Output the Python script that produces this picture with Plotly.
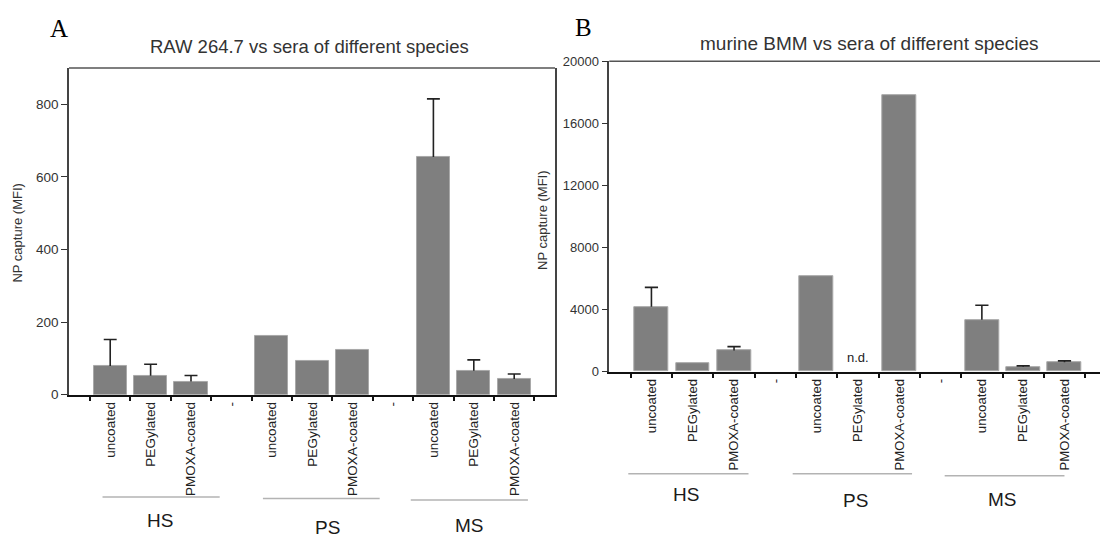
import plotly.graph_objects as go

# ---------------- data ----------------
groups = ["HS", "PS", "MS"]
coatings = ["uncoated", "PEGylated", "PMOXA-coated"]
separator_label = "-"

raw_mean = [79, 52, 36, 163, 94, 124, 655, 66, 43]
raw_sd = [73, 32, 17, None, None, None, 160, 30, 14]

bmm_mean = [4180, 520, 1360, 6180, None, 17800, 3340, 310, 610]
bmm_sd = [1250, None, 250, None, None, None, 940, 62, 82]
bmm_nd = [False, False, False, False, True, False, False, False, False]

raw_yticks = [0, 200, 400, 600, 800]
raw_yticklabels = ["0", "200", "400", "600", "800"]
bmm_yticks = [0, 4000, 8000, 12000, 16000, 20000]
bmm_yticklabels = ["0", "4000", "8000", "12000", "16000", "20000"]

title_a = "RAW 264.7 vs sera of different species"
title_b = "murine BMM vs sera of different species"
ytitle = "NP capture (MFI)"

# ---------------- layout helpers ----------------
W, H = 1100, 543
FONT = "Liberation Sans, Arial, sans-serif"
SERIF = "Liberation Serif, Times New Roman, serif"


def px(x):
    return x / W


def py(y):
    return 1 - y / H


step = len(coatings) + 1
xpos, ticktext = [], []
for g in range(len(groups)):
    for c, name in enumerate(coatings):
        xpos.append(g * step + c)
n_slots = len(groups) * step - 1
for i in range(n_slots):
    ticktext.append(coatings[i % step] if i % step < len(coatings) else separator_label)
tickvals = list(range(n_slots))
boundaries = [i - 0.5 for i in range(n_slots + 1)]

BAR_COLOR = "#7f7f7f"
BAR_EDGE = "#a9a9a9"
ERR_COLOR = "#222222"
CAP = 0.16


def err_trace(means, sds, xa, ya):
    xs, ys = [], []
    for x, m, s in zip(xpos, means, sds):
        if m is None or s is None:
            continue
        xs += [x, x, None, x - CAP, x + CAP, None]
        ys += [m, m + s, None, m + s, m + s, None]
    return go.Scatter(x=xs, y=ys, mode="lines", xaxis=xa, yaxis=ya,
                      line=dict(color=ERR_COLOR, width=1.6), hoverinfo="skip",
                      showlegend=False)


fig = go.Figure()
fig.add_trace(go.Bar(x=xpos, y=raw_mean, width=0.82, xaxis="x", yaxis="y",
                     marker=dict(color=BAR_COLOR, line=dict(color=BAR_EDGE, width=1)),
                     showlegend=False))
fig.add_trace(err_trace(raw_mean, raw_sd, "x", "y"))
fig.add_trace(go.Bar(x=xpos, y=bmm_mean, width=0.82, xaxis="x2", yaxis="y2",
                     marker=dict(color=BAR_COLOR, line=dict(color=BAR_EDGE, width=1)),
                     showlegend=False))
fig.add_trace(err_trace(bmm_mean, bmm_sd, "x2", "y2"))


def xaxis_cfg(domain, rng, anchor, fs):
    return dict(domain=domain, range=rng, anchor=anchor,
                tickmode="array", tickvals=tickvals, ticktext=ticktext,
                tickangle=-90, ticks="", showgrid=False, zeroline=False,
                showline=True, linecolor="#111111", linewidth=2,
                tickfont=dict(family=FONT, size=fs, color="#222222"),
                minor=dict(tickmode="array", tickvals=boundaries, ticks="outside",
                           ticklen=4, tickwidth=1.5, tickcolor="#111111", showgrid=False))


def yaxis_cfg(domain, rng, ticks, labels, anchor, mirror, fs):
    return dict(domain=domain, range=rng, anchor=anchor,
                tickmode="array", tickvals=ticks, ticktext=labels,
                ticks="outside", ticklen=6,
                tickwidth=1.3, tickcolor="#333333",
                showgrid=False, zeroline=False, showline=True,
                linecolor="#444444", linewidth=1.5, mirror=mirror,
                tickfont=dict(family=FONT, size=fs, color="#333333"))


fig.update_layout(
    width=W, height=H, autosize=False,
    margin=dict(l=0, r=0, t=0, b=0),
    paper_bgcolor="white", plot_bgcolor="white",
    bargap=0, showlegend=False,
    xaxis=xaxis_cfg([px(69), px(555)], [-1.02, 11.01], "y", 13.5),
    yaxis=yaxis_cfg([py(398.7), py(62.7)], [0, 900], raw_yticks, raw_yticklabels,
                    "x", True, 13.5),
    xaxis2=xaxis_cfg([px(609.3), 1.0], [-1.02, 10.86], "y2", 13.2),
    yaxis2=yaxis_cfg([py(375), py(55.7)], [0, 20000], bmm_yticks, bmm_yticklabels,
                     "x2", False, 13),
)

shapes = []
annotations = []

# top frame lines
for xr, yr in (("x domain", "y domain"), ("x2 domain", "y2 domain")):
    shapes.append(dict(type="line", xref=xr, yref=yr, x0=0, x1=1, y0=1, y1=1,
                       line=dict(color="#555555", width=1.5)))

# group decorations (line under labels + group name)
group_deco = {
    "x": dict(lines=[(-0.19, 2.71), (3.78, 6.67), (7.44, 10.34)], line_y=[504, 505.5, 507],
              text_x=[1.23, 5.38, 8.89], text_y=[528, 535, 533]),
    "x2": dict(lines=[(-0.56, 2.35), (3.42, 6.31), (7.10, 10.0)], line_y=[480, 480, 482],
               text_x=[0.83, 4.93, 8.51], text_y=[501, 508, 507]),
}
for xr, d in group_deco.items():
    for g, name in enumerate(groups):
        x0, x1 = d["lines"][g]
        shapes.append(dict(type="line", xref=xr, yref="paper", x0=x0, x1=x1,
                           y0=py(d["line_y"][g]), y1=py(d["line_y"][g]),
                           line=dict(color="#b3b3b3", width=1.5)))
        annotations.append(dict(text=name, xref=xr, yref="paper", x=d["text_x"][g],
                                y=py(d["text_y"][g]), showarrow=False,
                                xanchor="center", yanchor="middle",
                                font=dict(family=FONT, size=19, color="#1a1a1a")))

# n.d. marker
for x, nd in zip(xpos, bmm_nd):
    if nd:
        annotations.append(dict(text="n.d.", xref="x2", yref="y2", x=x, y=0,
                                yanchor="bottom", yshift=5, showarrow=False,
                                font=dict(family=FONT, size=13, color="#222222")))

# titles, panel letters, y titles
annotations += [
    dict(text=title_a, xref="paper", yref="paper", x=px(309), y=py(41),
         showarrow=False, xanchor="center", yanchor="middle",
         font=dict(family=FONT, size=18.5, color="#333333")),
    dict(text=title_b, xref="paper", yref="paper", x=px(869), y=py(38),
         showarrow=False, xanchor="center", yanchor="middle",
         font=dict(family=FONT, size=19, color="#333333")),
    dict(text="A", xref="paper", yref="paper", x=px(59), y=py(22),
         showarrow=False, xanchor="center", yanchor="middle",
         font=dict(family=SERIF, size=25, color="#000000")),
    dict(text="B", xref="paper", yref="paper", x=px(583), y=py(21),
         showarrow=False, xanchor="center", yanchor="middle",
         font=dict(family=SERIF, size=25, color="#000000")),
    dict(text=ytitle, xref="paper", yref="paper", x=px(18), y=py(233),
         showarrow=False, textangle=-90, xanchor="center", yanchor="middle",
         font=dict(family=FONT, size=13, color="#333333")),
    dict(text=ytitle, xref="paper", yref="paper", x=px(543), y=py(220),
         showarrow=False, textangle=-90, xanchor="center", yanchor="middle",
         font=dict(family=FONT, size=13, color="#333333")),
]

fig.update_layout(shapes=shapes, annotations=annotations)
fig.write_html("out.html")
